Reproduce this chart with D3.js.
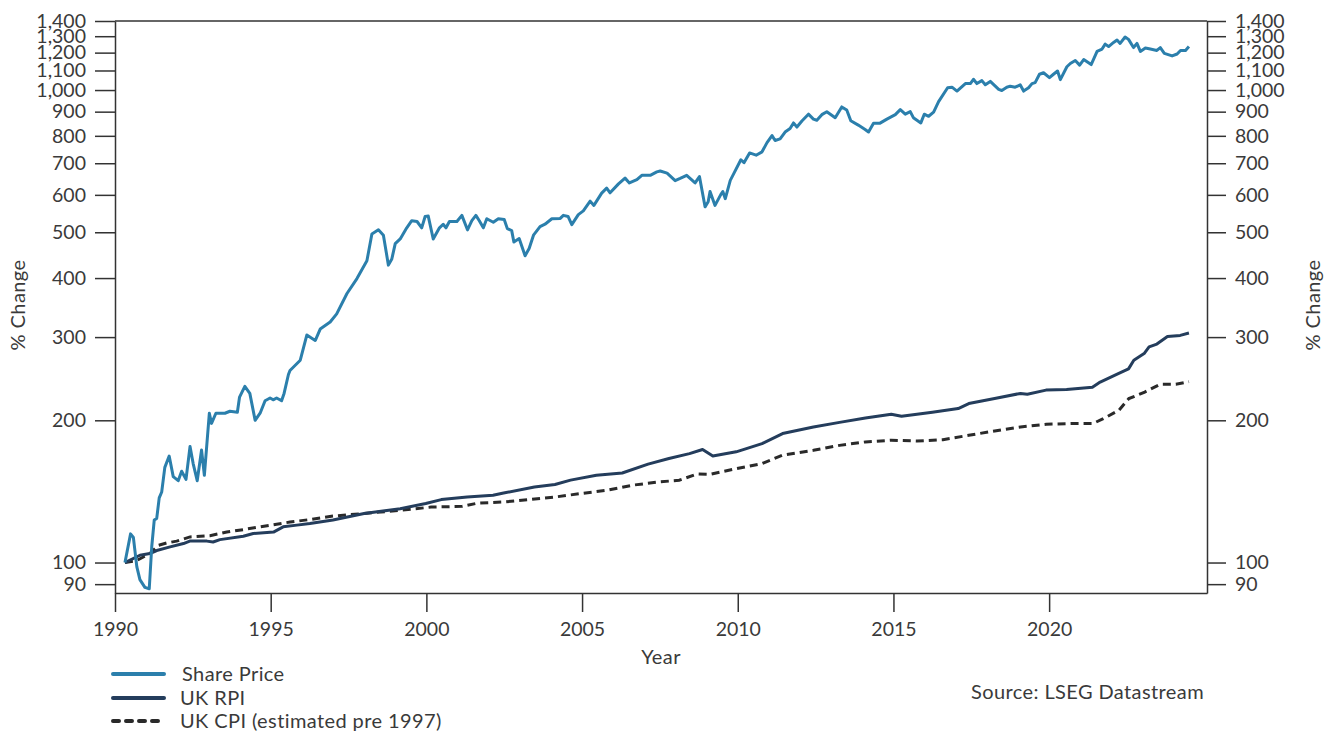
<!DOCTYPE html>
<html>
<head>
<meta charset="utf-8">
<script src="https://cdn.jsdelivr.net/npm/d3@7"></script>
<style>
  body { margin: 0; background: #fff; }
  svg text { font-family: Lato, "Open Sans", sans-serif; fill: #3a3a3a; }
  .lbl { font-size: 20px; letter-spacing: 0.4px; }
</style>
</head>
<body>
<div id="chart"></div>
<script>
// share price (rebased to 100)
const shareYears = [1990.32,1990.5,1990.59,1990.7,1990.8,1990.96,1991.1,1991.18,1991.26,1991.34,1991.42,1991.5,1991.6,1991.74,1991.87,1992.03,1992.14,1992.28,1992.41,1992.51,1992.64,1992.78,1992.87,1993.03,1993.1,1993.24,1993.53,1993.69,1993.93,1994.0,1994.17,1994.33,1994.5,1994.66,1994.82,1994.98,1995.08,1995.19,1995.35,1995.43,1995.57,1995.62,1995.95,1996.16,1996.43,1996.59,1996.91,1997.12,1997.45,1997.77,1998.09,1998.25,1998.46,1998.62,1998.78,1998.89,1999.0,1999.16,1999.37,1999.53,1999.7,1999.85,1999.96,2000.06,2000.22,2000.42,2000.54,2000.63,2000.74,2000.98,2001.14,2001.32,2001.46,2001.59,2001.7,2001.83,2001.94,2002.15,2002.31,2002.5,2002.6,2002.74,2002.81,2002.98,2003.17,2003.3,2003.44,2003.65,2003.81,2004.03,2004.3,2004.4,2004.55,2004.67,2004.88,2005.04,2005.26,2005.38,2005.63,2005.79,2005.9,2006.17,2006.38,2006.52,2006.76,2006.92,2007.19,2007.4,2007.51,2007.73,2007.99,2008.15,2008.36,2008.63,2008.77,2008.95,2009.05,2009.11,2009.27,2009.45,2009.52,2009.6,2009.76,2009.88,2010.1,2010.2,2010.38,2010.59,2010.78,2010.94,2011.1,2011.2,2011.36,2011.52,2011.68,2011.79,2011.9,2012.06,2012.27,2012.43,2012.54,2012.7,2012.86,2013.13,2013.34,2013.5,2013.63,2013.87,2014.09,2014.2,2014.36,2014.57,2014.79,2015.06,2015.22,2015.38,2015.54,2015.64,2015.88,2015.99,2016.13,2016.29,2016.45,2016.74,2016.88,2017.04,2017.31,2017.47,2017.57,2017.68,2017.84,2017.95,2018.11,2018.38,2018.48,2018.64,2018.75,2018.91,2019.07,2019.18,2019.34,2019.45,2019.55,2019.69,2019.82,2020.01,2020.14,2020.27,2020.36,2020.57,2020.68,2020.84,2020.98,2021.11,2021.35,2021.54,2021.7,2021.8,2021.91,2022.07,2022.18,2022.28,2022.44,2022.55,2022.71,2022.82,2022.93,2023.09,2023.25,2023.46,2023.57,2023.7,2023.95,2024.11,2024.22,2024.38,2024.49];
const shareValues = [100,115,113,98,92,88.6,88,108,123,124,137,141,159,168,152,149,156,150,176,162,149,173,153,207,197,207,207,209,208,224,236,228,200,207,220,223,221,223,220,228,250,255,268,303,295,312,323,336,371,399,435,496,506,493,426,439,473,484,511,529,527,511,540,541,484,511,520,511,527,527,543,506,529,543,529,511,534,525,534,532,509,504,477,485,446,462,493,514,520,534,535,543,540,519,545,555,582,570,605,620,606,633,651,636,646,660,660,671,674,667,643,650,660,636,656,566,580,610,570,600,610,589,644,667,712,702,736,728,740,774,801,782,788,815,829,852,835,860,889,868,863,887,900,874,921,907,861,843,825,815,851,851,868,887,909,889,900,874,852,889,880,898,945,1011,1014,995,1032,1032,1054,1032,1047,1026,1043,1003,998,1014,1019,1014,1026,995,1011,1032,1037,1080,1088,1062,1080,1097,1052,1120,1138,1155,1129,1160,1132,1207,1221,1251,1236,1261,1276,1255,1295,1280,1230,1255,1207,1227,1221,1213,1230,1196,1181,1192,1213,1213,1236];

// UK RPI (rebased)
const rpiYears = [1990.32,1990.8,1991.12,1991.34,1991.77,1992.2,1992.4,1992.95,1993.15,1993.37,1994.12,1994.44,1995.09,1995.4,1995.84,1996.26,1997.0,1998.0,1999.16,1999.98,2000.48,2001.31,2002.14,2002.48,2003.47,2004.13,2004.63,2005.46,2006.29,2007.12,2007.79,2008.45,2008.87,2009.2,2009.95,2010.78,2011.44,2012.43,2013.27,2014.1,2014.93,2015.26,2016.25,2017.08,2017.42,2018.25,2019.08,2019.3,2019.9,2020.56,2021.39,2021.64,2022.22,2022.55,2022.72,2023.05,2023.21,2023.46,2023.8,2024.21,2024.49];
const rpiValues = [100,103.6,104.5,106,107.9,109.7,111,111,110.5,111.8,113.7,115.2,116,119,120,120.9,123,127,130,133.3,135.9,137.6,138.8,140.3,144.5,146.3,149.4,153,154.7,161.5,166,170,173.5,168,171.5,178.5,187.5,193.6,198,202.3,206,204,208,211.8,217,222.5,228,227,231.7,232.5,235,241,251,257,268,276.8,286,290,300.8,302.5,306];

// UK CPI (estimated pre 1997)
const cpiYears = [1990.32,1990.7,1991.12,1991.4,1991.66,1991.98,1992.41,1993.05,1993.59,1994.12,1994.66,1995.19,1995.62,1996.26,1997.0,1998.0,1999.16,2000.15,2001.15,2001.65,2002.48,2003.31,2004.13,2004.97,2005.8,2006.63,2007.46,2008.12,2008.7,2009.12,2009.95,2010.78,2011.44,2012.43,2013.27,2014.1,2014.93,2015.76,2016.59,2017.42,2018.25,2019.08,2019.91,2020.74,2021.41,2021.74,2022.24,2022.56,2023.07,2023.57,2024.07,2024.49];
const cpiValues = [100,101,104.5,108.8,110,111,113.3,114,116,117.4,119,120.5,121.8,123.3,125.4,127,129,131,131.5,133.6,134.3,135.9,137.6,140,142.2,145.8,148.1,149.3,154,153.7,158,162,168.7,172.8,177,180,181.5,180.8,182,185.9,189.9,193.6,196.2,196.9,196.9,201.6,210,222.3,229.5,238.4,238.4,241.5];

const yTicks = [90,100,200,300,400,500,600,700,800,900,1000,1100,1200,1300,1400];
const xTicks = [1990,1995,2000,2005,2010,2015,2020];
const legendLabels = ["Share Price", "UK RPI", "UK CPI (estimated pre 1997)"];

const width = 1336, height = 734;
const margin = { top: 21, right: 129, bottom: 141, left: 115 };
const innerW = width - margin.left - margin.right;
const innerH = height - margin.top - margin.bottom;

const colShare = "#2b7fac", colRpi = "#243d5c", colCpi = "#2a2a2a";

const svg = d3.select("#chart").append("svg")
  .attr("width", width)
  .attr("height", height);

const g = svg.append("g").attr("transform", `translate(${margin.left},${margin.top})`);

const x = d3.scaleLinear().domain([1990, 2025.07]).range([0, innerW]);
const y = d3.scaleLog().domain([86.2, 1400]).range([innerH, 0]);

const fmt = d3.format(",");

// axes
const axisStyle = sel => {
  sel.select(".domain").attr("stroke", "#333").attr("stroke-width", 1.5);
  sel.selectAll(".tick line").attr("stroke", "#333").attr("stroke-width", 1.5);
  sel.selectAll(".tick text").style("font-size", "19.5px").attr("fill", "#3a3a3a");
};

g.append("g")
  .call(d3.axisLeft(y).tickValues(yTicks).tickFormat(fmt).tickSize(20).tickPadding(9).tickSizeOuter(0))
  .call(axisStyle);

g.append("g")
  .attr("transform", `translate(${innerW},0)`)
  .call(d3.axisRight(y).tickValues(yTicks).tickFormat(fmt).tickSize(19).tickPadding(9).tickSizeOuter(0))
  .call(axisStyle);

g.append("g")
  .attr("transform", `translate(0,${innerH})`)
  .call(d3.axisBottom(x).tickValues(xTicks).tickFormat(d3.format("d")).tickSize(19).tickPadding(10).tickSizeOuter(0))
  .call(axisStyle);

// top frame line
g.append("line")
  .attr("x1", 0).attr("x2", innerW).attr("y1", 0).attr("y2", 0)
  .attr("stroke", "#333").attr("stroke-width", 1.5);

// series
const line = d3.line()
  .x(d => x(d[0]))
  .y(d => y(d[1]));

const zip = (a, b) => a.map((v, i) => [v, b[i]]);

g.append("path")
  .datum(zip(cpiYears, cpiValues))
  .attr("fill", "none")
  .attr("stroke", colCpi)
  .attr("stroke-width", 3)
  .attr("stroke-dasharray", "8,5")
  .attr("d", line);

g.append("path")
  .datum(zip(rpiYears, rpiValues))
  .attr("fill", "none")
  .attr("stroke", colRpi)
  .attr("stroke-width", 3)
  .attr("stroke-linejoin", "round")
  .attr("d", line);

g.append("path")
  .datum(zip(shareYears, shareValues))
  .attr("fill", "none")
  .attr("stroke", colShare)
  .attr("stroke-width", 3)
  .attr("stroke-linejoin", "round")
  .attr("d", line);

// axis titles
svg.append("text")
  .attr("class", "lbl")
  .attr("x", margin.left + innerW / 2)
  .attr("y", 664)
  .attr("text-anchor", "middle")
  .text("Year");

svg.append("text")
  .attr("class", "lbl")
  .attr("transform", "translate(25,305) rotate(-90)")
  .attr("text-anchor", "middle")
  .text("% Change");

svg.append("text")
  .attr("class", "lbl")
  .attr("transform", "translate(1320,305) rotate(-90)")
  .attr("text-anchor", "middle")
  .text("% Change");

// legend
const legendColors = [colShare, colRpi, colCpi];
const legendY = [674, 698, 721];
legendLabels.forEach((lab, i) => {
  svg.append("line")
    .attr("x1", 113).attr("x2", 164)
    .attr("y1", legendY[i]).attr("y2", legendY[i])
    .attr("stroke", legendColors[i])
    .attr("stroke-width", 4)
    .attr("stroke-linecap", "round")
    .attr("stroke-dasharray", i === 2 ? "6,7" : null);
  svg.append("text")
    .attr("class", "lbl")
    .attr("x", i === 0 ? 182 : 180)
    .attr("y", legendY[i] + 7)
    .text(lab);
});

svg.append("text")
  .attr("class", "lbl")
  .attr("x", 1204)
  .attr("y", 699)
  .attr("text-anchor", "end")
  .text("Source: LSEG Datastream");
</script>
</body>
</html>
